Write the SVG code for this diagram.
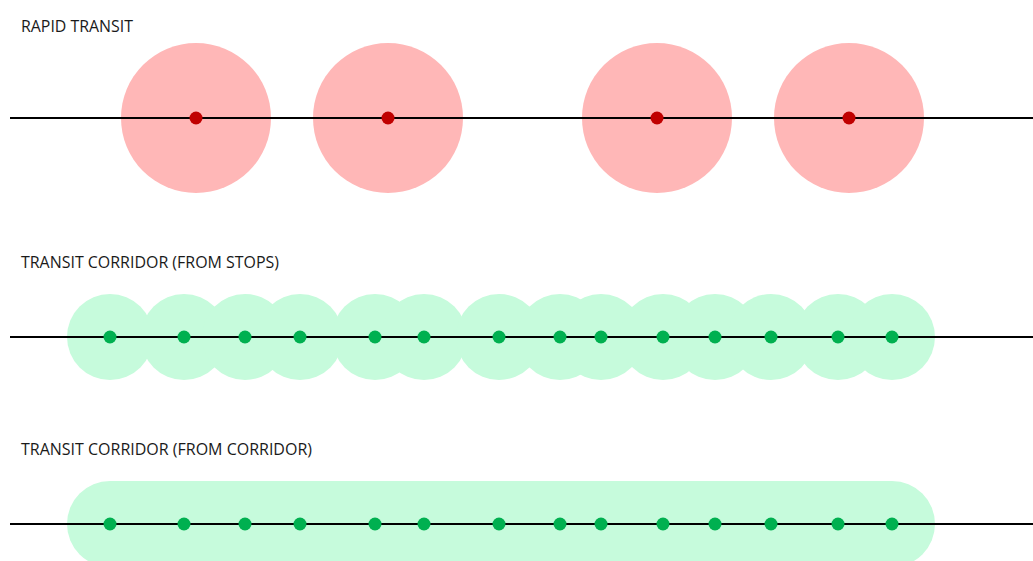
<svg xmlns="http://www.w3.org/2000/svg" width="1033" height="561" viewBox="0 0 1033 561">
  <style>
    .label { font-family: "Open Sans", "Liberation Sans", sans-serif; font-size: 16.5px; fill: #1a1a1a; }
    .track { stroke: #000; stroke-width: 2; fill: none; }
    .rapid-zone { fill: #ffb7b7; }
    .rapid-stop { fill: #c00000; }
    .zone { fill: #c6fbdc; }
    .stop { fill: #00b050; }
  </style>
  <rect width="1033" height="561" fill="#fff"/>

  <!-- Rapid transit: catchment per stop -->
  <g id="rapid-transit">
    <text class="label" x="21" y="31.5" textLength="112" lengthAdjust="spacingAndGlyphs">RAPID TRANSIT</text>
    <g id="rapid-zones">
      <circle class="rapid-zone" cx="196" cy="118" r="75"/>
      <circle class="rapid-zone" cx="388" cy="118" r="75"/>
      <circle class="rapid-zone" cx="657" cy="118" r="75"/>
      <circle class="rapid-zone" cx="849" cy="118" r="75"/>
    </g>
  </g>

  <!-- Corridor built from stop buffers -->
  <g id="corridor-from-stops">
    <text class="label" x="21" y="267.5" textLength="258" lengthAdjust="spacingAndGlyphs">TRANSIT CORRIDOR (FROM STOPS)</text>
    <g id="stop-zones">
      <circle class="zone" cx="110" cy="337" r="43"/>
      <circle class="zone" cx="184" cy="337" r="43"/>
      <circle class="zone" cx="245" cy="337" r="43"/>
      <circle class="zone" cx="300" cy="337" r="43"/>
      <circle class="zone" cx="375" cy="337" r="43"/>
      <circle class="zone" cx="424" cy="337" r="43"/>
      <circle class="zone" cx="499" cy="337" r="43"/>
      <circle class="zone" cx="560" cy="337" r="43"/>
      <circle class="zone" cx="601" cy="337" r="43"/>
      <circle class="zone" cx="663" cy="337" r="43"/>
      <circle class="zone" cx="715" cy="337" r="43"/>
      <circle class="zone" cx="771" cy="337" r="43"/>
      <circle class="zone" cx="838" cy="337" r="43"/>
      <circle class="zone" cx="892" cy="337" r="43"/>
    </g>
  </g>

  <!-- Corridor built from the line buffer -->
  <g id="corridor-from-corridor">
    <text class="label" x="21" y="454.5" textLength="291" lengthAdjust="spacingAndGlyphs">TRANSIT CORRIDOR (FROM CORRIDOR)</text>
    <rect id="corridor-zone" class="zone" x="67" y="481" width="868" height="86" rx="43" ry="43"/>
  </g>

  <!-- Transit lines -->
  <g id="connectors">
    <line class="track" x1="10" y1="118" x2="1033" y2="118"/>
    <line class="track" x1="10" y1="337" x2="1033" y2="337"/>
    <line class="track" x1="10" y1="524" x2="1033" y2="524"/>
  </g>

  <!-- Stops -->
  <g id="rapid-stops">
    <circle class="rapid-stop" cx="196" cy="118" r="6.5"/>
    <circle class="rapid-stop" cx="388" cy="118" r="6.5"/>
    <circle class="rapid-stop" cx="657" cy="118" r="6.5"/>
    <circle class="rapid-stop" cx="849" cy="118" r="6.5"/>
  </g>
  <g id="corridor-stops-a">
    <circle class="stop" cx="110" cy="337" r="6.5"/>
    <circle class="stop" cx="184" cy="337" r="6.5"/>
    <circle class="stop" cx="245" cy="337" r="6.5"/>
    <circle class="stop" cx="300" cy="337" r="6.5"/>
    <circle class="stop" cx="375" cy="337" r="6.5"/>
    <circle class="stop" cx="424" cy="337" r="6.5"/>
    <circle class="stop" cx="499" cy="337" r="6.5"/>
    <circle class="stop" cx="560" cy="337" r="6.5"/>
    <circle class="stop" cx="601" cy="337" r="6.5"/>
    <circle class="stop" cx="663" cy="337" r="6.5"/>
    <circle class="stop" cx="715" cy="337" r="6.5"/>
    <circle class="stop" cx="771" cy="337" r="6.5"/>
    <circle class="stop" cx="838" cy="337" r="6.5"/>
    <circle class="stop" cx="892" cy="337" r="6.5"/>
  </g>
  <g id="corridor-stops-b">
    <circle class="stop" cx="110" cy="524" r="6.5"/>
    <circle class="stop" cx="184" cy="524" r="6.5"/>
    <circle class="stop" cx="245" cy="524" r="6.5"/>
    <circle class="stop" cx="300" cy="524" r="6.5"/>
    <circle class="stop" cx="375" cy="524" r="6.5"/>
    <circle class="stop" cx="424" cy="524" r="6.5"/>
    <circle class="stop" cx="499" cy="524" r="6.5"/>
    <circle class="stop" cx="560" cy="524" r="6.5"/>
    <circle class="stop" cx="601" cy="524" r="6.5"/>
    <circle class="stop" cx="663" cy="524" r="6.5"/>
    <circle class="stop" cx="715" cy="524" r="6.5"/>
    <circle class="stop" cx="771" cy="524" r="6.5"/>
    <circle class="stop" cx="838" cy="524" r="6.5"/>
    <circle class="stop" cx="892" cy="524" r="6.5"/>
  </g>
</svg>
